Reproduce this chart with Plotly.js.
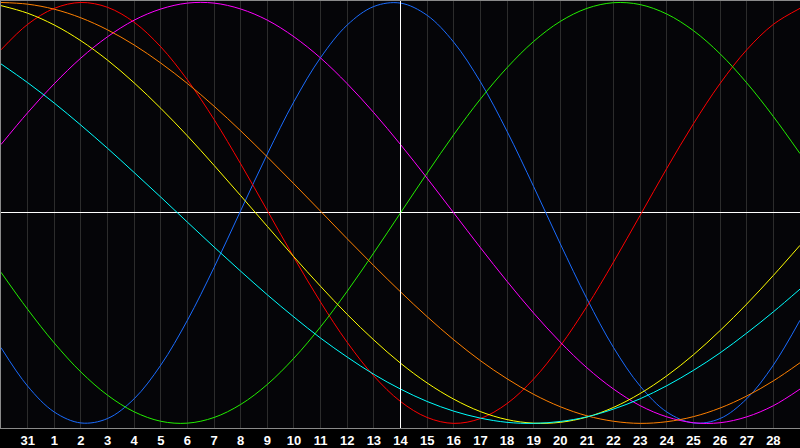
<!DOCTYPE html>
<html>
<head>
<meta charset="utf-8">
<script src="https://cdn.plot.ly/plotly-3.0.1.min.js"></script>
<style>
html,body{margin:0;padding:0;background:#000;}
#chart{width:800px;height:448px;}
</style>
</head>
<body>
<div id="chart"></div>
<script>
// Day labels for each sample position (Jan 30 .. Mar 1)
const dayLabels = ['30','31','1','2','3','4','5','6','7','8','9','10','11','12','13','14','15','16','17','18','19','20','21','22','23','24','25','26','27','28','1'];
const todayLabel = '14';

// Cycle values, one per day position
const physical = [-0.640,-0.823,-0.946,-0.998,-0.977,-0.883,-0.723,-0.510,-0.259,0.011,0.280,0.529,0.738,0.893,0.981,0.997,0.939,0.811,0.623,0.388,0.125,-0.147,-0.408,-0.640,-0.823,-0.946,-0.998,-0.977,-0.883,-0.723,-0.510];
const emotional = [0.775,0.896,0.972,1.000,0.977,0.906,0.789,0.632,0.444,0.233,0.011,-0.212,-0.424,-0.615,-0.775,-0.896,-0.972,-1.000,-0.977,-0.906,-0.789,-0.632,-0.444,-0.233,-0.011,0.212,0.424,0.615,0.775,0.896,0.972];
const intellectual = [-0.282,-0.458,-0.618,-0.756,-0.866,-0.945,-0.990,-0.999,-0.972,-0.910,-0.815,-0.690,-0.541,-0.372,-0.189,0.000,0.189,0.372,0.541,0.690,0.815,0.910,0.972,0.999,0.990,0.945,0.866,0.756,0.618,0.458,0.282];
const intuitive = [0.325,0.476,0.614,0.736,0.837,0.916,0.969,0.997,0.997,0.969,0.916,0.837,0.736,0.614,0.476,0.325,0.165,0.000,-0.165,-0.325,-0.476,-0.614,-0.736,-0.837,-0.916,-0.969,-0.997,-0.997,-0.969,-0.916,-0.837];
const aesthetic = [0.985,0.949,0.893,0.818,0.726,0.618,0.497,0.366,0.226,0.082,-0.064,-0.209,-0.349,-0.482,-0.604,-0.714,-0.808,-0.885,-0.944,-0.982,-0.999,-0.995,-0.970,-0.924,-0.858,-0.774,-0.674,-0.559,-0.433,-0.297,-0.154];
const awareness = [1.000,0.992,0.968,0.927,0.870,0.798,0.712,0.615,0.507,0.390,0.266,0.138,0.008,-0.123,-0.251,-0.375,-0.493,-0.603,-0.702,-0.788,-0.862,-0.921,-0.964,-0.990,-1.000,-0.992,-0.968,-0.927,-0.870,-0.798,-0.712];
const spiritual = [0.708,0.619,0.522,0.417,0.307,0.192,0.075,-0.044,-0.162,-0.277,-0.389,-0.495,-0.595,-0.685,-0.767,-0.837,-0.896,-0.942,-0.975,-0.995,-1.000,-0.991,-0.969,-0.932,-0.883,-0.821,-0.748,-0.665,-0.571,-0.470,-0.362];

const seriesNames = ['Physical','Emotional','Intellectual','Intuitive','Aesthetic','Awareness','Spiritual'];
const seriesValues = [physical, emotional, intellectual, intuitive, aesthetic, awareness, spiritual];
const seriesColors = ['#1a6cff','#ff0000','#22ee00','#ff00ff','#ffff00','#ff8000','#00ffff'];

const xIdx = dayLabels.map((_, i) => i);
const tickIdx = xIdx.slice(1, xIdx.length - 1);
const tickTxt = dayLabels.slice(1, dayLabels.length - 1);

const traces = seriesValues.map((vals, k) => ({
  type: 'scatter', mode: 'lines', name: seriesNames[k],
  x: xIdx, y: vals,
  line: {color: seriesColors[k], width: 1, shape: 'spline', smoothing: 1},
  hoverinfo: 'skip'
}));

const todayX = dayLabels.indexOf(todayLabel);

const layout = {
  width: 800, height: 448,
  margin: {l: 1, r: 0, t: 1, b: 20, pad: 0},
  paper_bgcolor: '#000000',
  plot_bgcolor: '#050508',
  showlegend: false,
  xaxis: {
    range: [0, xIdx.length - 1],
    tickmode: 'array', tickvals: tickIdx, ticktext: tickTxt,
    showgrid: true, gridcolor: '#2c2c2c', gridwidth: 1,
    zeroline: false,
    showline: true, linecolor: '#8a8a8a', linewidth: 1, mirror: true,
    ticks: '', ticklen: 0,
    tickfont: {family: 'Liberation Sans, Arial, sans-serif', size: 13, color: '#ffffff', weight: 'bold'},
    fixedrange: true
  },
  yaxis: {
    range: [-1.022, 1.007],
    showgrid: false, showticklabels: false, ticks: '',
    zeroline: true, zerolinecolor: '#ffffff', zerolinewidth: 1,
    showline: true, linecolor: '#8a8a8a', linewidth: 1,
    fixedrange: true
  },
  shapes: [{
    type: 'line', xref: 'x', yref: 'y',
    x0: todayX, x1: todayX, y0: -1.022, y1: 1.007,
    line: {color: '#ffffff', width: 1}, layer: 'above'
  }]
};

Plotly.newPlot('chart', traces, layout, {staticPlot: true, displayModeBar: false});
</script>
</body>
</html>
